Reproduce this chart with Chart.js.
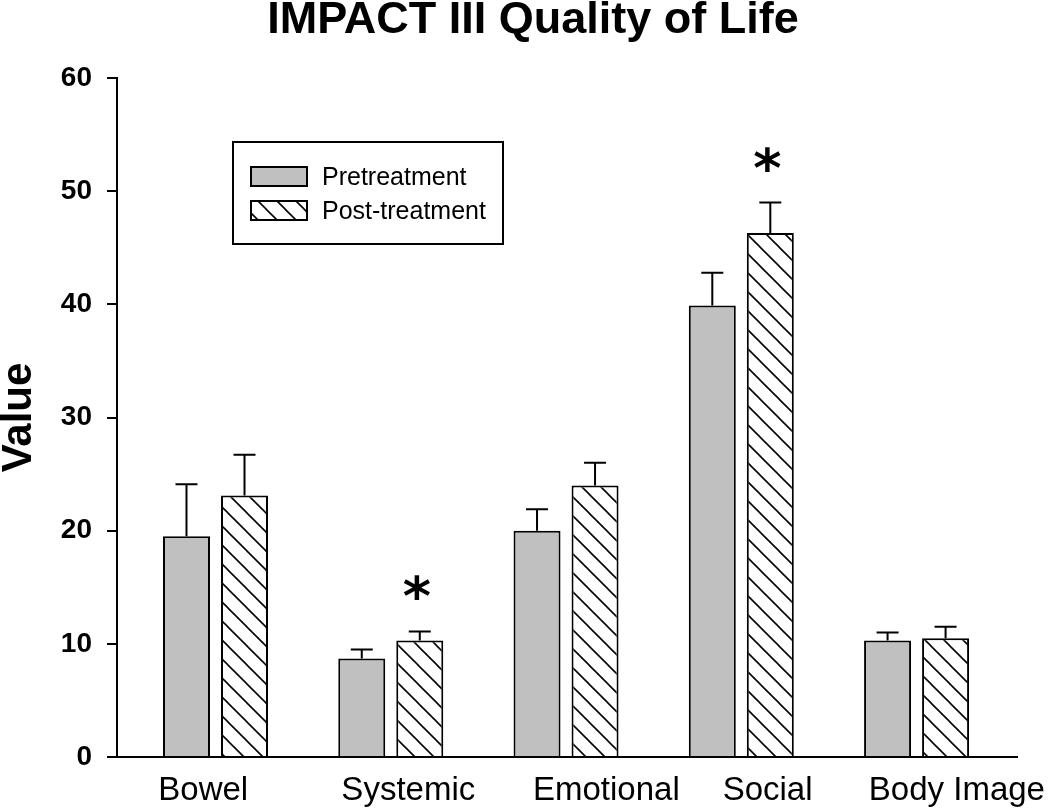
<!DOCTYPE html>
<html>
<head>
<meta charset="utf-8">
<script src="https://cdn.jsdelivr.net/npm/chart.js@4.4.1/dist/chart.umd.min.js"></script>
<style>
  body { margin: 0; background: #fff; }
</style>
</head>
<body>
<canvas id="js-chart" width="1050" height="809"></canvas>
<script>
const CATEGORIES = ["Bowel", "Systemic", "Emotional", "Social", "Body Image"];
const PRE_VALUES = [19.5, 8.7, 20.0, 39.9, 10.3];
const PRE_ERRORS = [4.6, 0.8, 1.9, 2.9, 0.7];
const POST_VALUES = [23.1, 10.3, 24.0, 46.3, 10.5];
const POST_ERRORS = [3.6, 0.8, 2.0, 2.7, 1.0];
const SIGNIFICANT = [false, true, false, true, false];
const Y_TICKS = [0, 10, 20, 30, 40, 50, 60];

// the category labels in the figure are not centred under their groups
const LABEL_SHIFT = [-0.07, 0.1, 0.23, 0.15, 0.23];
const X_MIN = -0.562;
const X_MAX = 4.573;

const FONT = "'Liberation Sans', Arial, sans-serif";

function toPoints(values) {
  return values.map((v, i) => ({ x: i, y: v }));
}

function makeHatch() {
  const size = 19;
  const tile = document.createElement("canvas");
  tile.width = size;
  tile.height = size;
  const g = tile.getContext("2d");
  g.fillStyle = "#fff";
  g.fillRect(0, 0, size, size);
  g.strokeStyle = "#000";
  g.lineWidth = 1.6;
  [-1, 0, 1].forEach((k) => {
    g.beginPath();
    g.moveTo(k * size - 1, -1);
    g.lineTo(k * size + size + 1, size + 1);
    g.stroke();
  });
  return g.createPattern(tile, "repeat");
}

// error bars (upper only) and the significance stars
const errorBars = {
  id: "errorBars",
  afterDatasetsDraw(chart) {
    const { ctx } = chart;
    const yScale = chart.scales.y;
    ctx.save();
    ctx.strokeStyle = "#000";
    ctx.lineWidth = 2;
    chart.data.datasets.forEach((ds, di) => {
      const meta = chart.getDatasetMeta(di);
      meta.data.forEach((bar, i) => {
        const top = yScale.getPixelForValue(ds.data[i].y + ds.errors[i]);
        ctx.beginPath();
        ctx.moveTo(bar.x, bar.y);
        ctx.lineTo(bar.x, top);
        ctx.moveTo(bar.x - 11, top);
        ctx.lineTo(bar.x + 11, top);
        ctx.stroke();
        if (di === 1 && SIGNIFICANT[i]) {
          ctx.fillStyle = "#000";
          ctx.font = "bold 54px 'DejaVu Sans', sans-serif";
          ctx.textAlign = "center";
          ctx.textBaseline = "middle";
          ctx.fillText("*", bar.x - 3, top - 40 + 10);
        }
      });
    });
    ctx.restore();
  },
};

// boxed legend inside the plot
const boxLegend = {
  id: "boxLegend",
  afterDraw(chart) {
    const { ctx, chartArea } = chart;
    const x = chartArea.left + 116;
    const y = chartArea.top + 64;
    ctx.save();
    ctx.lineWidth = 2;
    ctx.strokeStyle = "#000";
    ctx.strokeRect(x, y, 270, 102);
    ctx.font = "25px " + FONT;
    ctx.textBaseline = "alphabetic";
    chart.data.datasets.forEach((ds, i) => {
      const sy = y + 25 + i * 34;
      ctx.fillStyle = ds.backgroundColor;
      ctx.fillRect(x + 18, sy, 56, 19);
      ctx.strokeRect(x + 18, sy, 56, 19);
      ctx.fillStyle = "#000";
      ctx.fillText(ds.label, x + 89, sy + 18);
    });
    ctx.restore();
  },
};

const context = document.getElementById("js-chart").getContext("2d");

const qolChart = new Chart(context, {
  type: "bar",
  data: {
    datasets: [
      {
        label: "Pretreatment",
        data: toPoints(PRE_VALUES),
        errors: PRE_ERRORS,
        backgroundColor: "#c0c0c0",
        borderColor: "#000",
        borderWidth: 2,
        xAxisID: "x",
      },
      {
        label: "Post-treatment",
        data: toPoints(POST_VALUES),
        errors: POST_ERRORS,
        backgroundColor: makeHatch(),
        borderColor: "#000",
        borderWidth: 2,
        xAxisID: "x",
      },
    ],
  },
  options: {
    responsive: false,
    animation: false,
    devicePixelRatio: 1,
    categoryPercentage: 0.662,
    barPercentage: 0.81,
    layout: { padding: { left: 49, right: 33, top: 0, bottom: 0 } },
    plugins: {
      legend: { display: false },
      tooltip: { enabled: false },
      title: {
        display: true,
        text: "IMPACT III Quality of Life",
        color: "#000",
        font: { family: FONT, size: 45, weight: "bold", lineHeight: 0.8 },
        padding: { top: 3, bottom: 39 },
      },
    },
    scales: {
      x: {
        type: "linear",
        position: "bottom",
        weight: 0,
        z: 1,
        offset: false,
        min: X_MIN,
        max: X_MAX,
        bounds: "data",
        afterBuildTicks: (s) => {
          s.ticks = CATEGORIES.map((_, i) => ({ value: i }));
        },
        afterFit: (s) => {
          s.height = 14;
        },
        grid: { display: false, drawTicks: false, offset: false },
        border: { display: true, color: "#000", width: 2 },
        ticks: { display: false },
      },
      xl: {
        type: "linear",
        axis: "x",
        position: "bottom",
        weight: 1,
        offset: false,
        min: X_MIN,
        max: X_MAX,
        bounds: "data",
        afterBuildTicks: (s) => {
          s.ticks = CATEGORIES.map((_, i) => ({ value: i + LABEL_SHIFT[i] }));
        },
        afterFit: (s) => {
          s.height = 38;
          s.paddingLeft = 0;
          s.paddingRight = 0;
        },
        grid: { display: false, drawTicks: false, offset: false },
        border: { display: false },
        ticks: {
          padding: 0,
          autoSkip: false,
          maxRotation: 0,
          color: "#000",
          font: { family: FONT, size: 33 },
          callback: (value, index) => CATEGORIES[index],
        },
      },
      y: {
        min: 0,
        max: 60,
        afterBuildTicks: (s) => {
          s.ticks = Y_TICKS.map((v) => ({ value: v }));
        },
        afterFit: (s) => {
          s.width = 68;
        },
        border: { display: true, color: "#000", width: 2 },
        grid: {
          drawOnChartArea: false,
          drawTicks: true,
          tickLength: 10,
          color: "#000",
          lineWidth: 2,
        },
        ticks: {
          color: "#000",
          padding: 15,
          font: { family: FONT, size: 28, weight: "bold" },
        },
        title: {
          display: true,
          text: "Value",
          color: "#000",
          font: { family: FONT, size: 42, weight: "bold", lineHeight: 1 },
          padding: { top: -50.5, bottom: 0 },
        },
      },
    },
  },
  plugins: [errorBars, boxLegend],
});
</script>
</body>
</html>
